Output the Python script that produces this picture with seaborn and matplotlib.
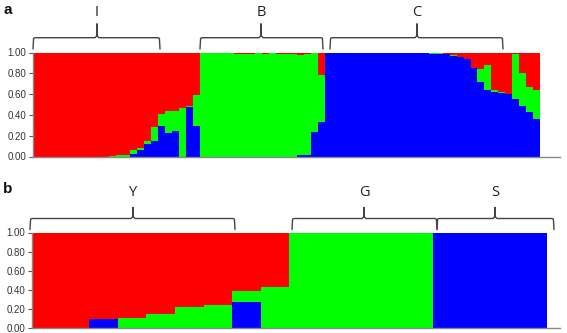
import numpy as np
import pandas as pd
import matplotlib
matplotlib.use('Agg')
import matplotlib.pyplot as plt
import seaborn as sns

# ---- panel a: admixture proportions per individual (blue bottom, green, red top)
a_blue = ([0.0] * 11 +
          [0.0, 0.0, 0.0, 0.02, 0.065, 0.12, 0.15, 0.29, 0.23, 0.245, 0.0, 0.48, 0.29] +
          [0.0] * 14 + [0.01, 0.01, 0.24, 0.335] +
          [1.0] * 14 + [0.995, 0.99, 0.99, 0.985] +
          [0.97, 0.955, 0.94, 0.855, 0.72, 0.64, 0.625, 0.615, 0.60, 0.55, 0.49, 0.43, 0.365])
a_green = ([0.0] * 11 +
           [0.005, 0.01, 0.016, 0.04, 0.015, 0.025, 0.13, 0.12, 0.21, 0.195, 0.47, 0.01, 0.30] +
           [1.0, 1.0, 1.0, 1.0, 1.0, 0.99, 0.99, 0.99, 1.0, 0.99, 1.0, 0.99, 0.99, 0.985] +
           [0.97, 0.975, 0.76, 0.445] +
           [0.0] * 14 + [0.005, 0.01, 0.005, 0.005] +
           [0.01, 0.0, 0.0, 0.0, 0.12, 0.24, 0.01, 0.01, 0.005, 0.44, 0.31, 0.24, 0.27])
a_red = ([1.0] * 11 +
         [0.995, 0.99, 0.984, 0.94, 0.92, 0.855, 0.72, 0.59, 0.56, 0.56, 0.53, 0.51, 0.41] +
         [0.0, 0.0, 0.0, 0.0, 0.0, 0.01, 0.01, 0.01, 0.0, 0.01, 0.0, 0.01, 0.01, 0.015] +
         [0.02, 0.015, 0.0, 0.22] +
         [0.0] * 14 + [0.0, 0.0, 0.005, 0.01] +
         [0.02, 0.045, 0.06, 0.145, 0.16, 0.12, 0.365, 0.375, 0.395, 0.01, 0.20, 0.33, 0.365])

# ---- panel b
b_blue = [0.0, 0.0, 0.095, 0.0, 0.0, 0.0, 0.0, 0.27, 0.0,
          0.0, 0.0, 0.0, 0.0, 0.0, 1.0, 1.0, 1.0, 0.99]
b_green = [0.0, 0.0, 0.0, 0.10, 0.15, 0.225, 0.245, 0.12, 0.43,
           0.995, 0.995, 0.995, 0.995, 1.0, 0.0, 0.0, 0.0, 0.0]
b_red = [1.0, 1.0, 0.905, 0.90, 0.85, 0.775, 0.755, 0.61, 0.57,
         0.005, 0.005, 0.005, 0.005, 0.0, 0.0, 0.0, 0.0, 0.01]

a_groups = [('I', 33, 160, 97), ('B', 200, 323, 261), ('C', 330, 503, 417)]
b_groups = [('Y', 30, 235, 133), ('G', 292, 437, 364), ('S', 437, 554, 495)]

yticks = [0.0, 0.2, 0.4, 0.6, 0.8, 1.0]
ytick_labels = ['0.00', '0.20', '0.40', '0.60', '0.80', '1.00']

RED, GREEN, BLUE = '#ff0000', '#00ff00', '#0000ff'

sns.set_style('white')
plt.rcParams['font.family'] = ['Liberation Sans', 'DejaVu Sans']

W, H = 567, 333
fig = plt.figure(figsize=(W / 100, H / 100), dpi=100)


def structure(ax, blue, green, red, xmax):
    df = pd.DataFrame({'ind': np.arange(len(blue)),
                       'blue': blue, 'green': green, 'red': red})
    df['bg'] = df['blue'] + df['green']
    df['top'] = df['bg'] + df['red']
    # overdraw cumulative heights: red total, then green+blue, then blue
    for col, c in [('top', RED), ('bg', GREEN), ('blue', BLUE)]:
        sns.barplot(data=df, x='ind', y=col, color=c, saturation=1, width=1.0,
                    linewidth=0, errorbar=None, ax=ax)
    ax.set_xlim(-0.5, xmax)
    ax.set_ylim(0, 1.0)
    ax.set_xticks([])
    ax.set_xlabel('')
    ax.set_ylabel('')
    ax.set_yticks(yticks)
    ax.set_yticklabels(ytick_labels, fontsize=7, color='#333333')
    ax.tick_params(axis='y', length=3, width=0.8, color='#555555', pad=2, left=True)
    for s in ['top', 'right']:
        ax.spines[s].set_visible(False)
    for s in ['left', 'bottom']:
        ax.spines[s].set_color('#888888')
        ax.spines[s].set_linewidth(1.0)
    ax.set_facecolor('white')


ax_a = fig.add_axes([33 / W, (H - 156.5) / H, (560 - 33) / W, 104 / H])
structure(ax_a, a_blue, a_green, a_red, -0.5 + 527 / 6.945)

ax_b = fig.add_axes([32 / W, (H - 328) / H, (560 - 32) / W, 95.5 / H])
structure(ax_b, b_blue, b_green, b_red, -0.5 + 528 / 28.61)

# overlay for brackets and labels in pixel coordinates
ov = fig.add_axes([0, 0, 1, 1])
ov.set_xlim(0, W)
ov.set_ylim(H, 0)
ov.axis('off')


def bracket(x0, x1, xm, yline, yend, ytop, label, ylab):
    r = 2.0
    xs = [x0, x0 + r * 0.3, x0 + r, xm - r, xm, xm, xm, xm + r, x1 - r, x1 - r * 0.3, x1]
    ys = [yend, yline + r * 0.3, yline, yline, yline - r, ytop, yline - r, yline,
          yline, yline + r * 0.3, yend]
    ov.plot(xs, ys, color='#444444', lw=1.0, solid_joinstyle='round')
    ov.text(xm, ylab, label, ha='center', va='center', fontsize=10.5,
            color='#222222', family=['Open Sans', 'DejaVu Sans'])


for lab, x0, x1, xm in a_groups:
    bracket(x0, x1, xm, 37.7, 49, 24, lab, 12)
for lab, x0, x1, xm in b_groups:
    bracket(x0, x1, xm, 218.5, 229.5, 207.5, lab, 192)

ov.text(3, 10, 'a', fontsize=11, fontweight='bold', ha='left', va='center', color='#111111')
ov.text(3, 189, 'b', fontsize=11, fontweight='bold', ha='left', va='center', color='#111111')

fig.savefig('out.png', dpi=100, facecolor='white')
